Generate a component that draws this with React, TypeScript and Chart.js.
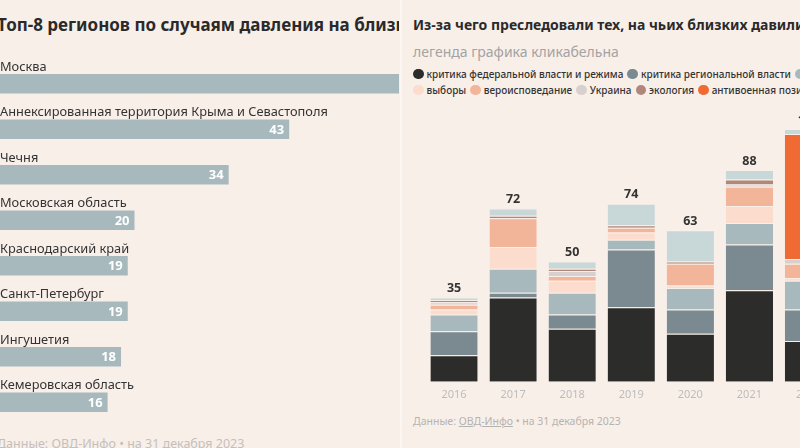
import React, { useEffect, useRef } from "react";
import { Chart, registerables } from "chart.js";

Chart.register(...registerables);

// ---------- Left chart data ----------
const regions = [
  "Москва",
  "Аннексированная территория Крыма и Севастополя",
  "Чечня",
  "Московская область",
  "Краснодарский край",
  "Санкт-Петербург",
  "Ингушетия",
  "Кемеровская область",
];
const regionCases = [66, 43, 34, 20, 19, 19, 18, 16];

// ---------- Right chart data ----------
const years = ["2016", "2017", "2018", "2019", "2020", "2021", "2022"];
const seriesNames = [
  "критика федеральной власти и режима",
  "критика региональной власти",
  "журналистика",
  "выборы",
  "вероисповедание",
  "Украина",
  "экология",
  "антивоенная позиция",
  "другое",
];
const seriesColors = [
  "#2c2c2b",
  "#7b8a90",
  "#a7b9bd",
  "#fbdccd",
  "#f3b599",
  "#d8d0ce",
  "#b0877a",
  "#f06a33",
  "#c8d8d9",
];
const fedCritique = [11, 35, 22, 31, 20, 38, 17];
const regionalCritique = [10, 2, 6, 24, 10, 19, 13];
const journalism = [7, 10, 9, 4, 9, 9, 12];
const elections = [2, 9, 5, 3, 1, 7, 1];
const religion = [2, 12, 2, 2, 9, 8, 6];
const ukraine = [1, 0, 2, 0, 0, 1, 2];
const ecology = [1, 1, 1, 1, 1, 2, 0];
const antiwar = [0, 0, 0, 0, 0, 0, 52];
const other = [1, 3, 3, 9, 13, 4, 2];
const seriesValues = [
  fedCritique,
  regionalCritique,
  journalism,
  elections,
  religion,
  ukraine,
  ecology,
  antiwar,
  other,
];
const legendRows = [
  [0, 1, 2],
  [3, 4, 5, 6, 7, 8],
];

const BG = "#f9efe9";
const FONT = "'Noto Sans', 'DejaVu Sans', sans-serif";

function LeftChart() {
  const ref = useRef<HTMLCanvasElement | null>(null);
  useEffect(() => {
    if (!ref.current) return;
    const labelsPlugin = {
      id: "regionLabels",
      afterDatasetsDraw(chart: any) {
        const ctx = chart.ctx;
        const meta = chart.getDatasetMeta(0);
        ctx.save();
        meta.data.forEach((bar: any, i: number) => {
          const h = bar.height;
          ctx.font = `12.8px ${FONT}`;
          ctx.fillStyle = "#333";
          ctx.textAlign = "left";
          ctx.textBaseline = "middle";
          ctx.fillText(regions[i], chart.chartArea.left, bar.y - h / 2 - 7);
          ctx.font = `bold 13px ${FONT}`;
          ctx.fillStyle = "#ffffff";
          ctx.textAlign = "right";
          ctx.fillText(String(regionCases[i]), bar.x - 5, bar.y + 1);
        });
        ctx.restore();
      },
    };
    const chart = new Chart(ref.current, {
      type: "bar",
      data: {
        labels: regions,
        datasets: [
          {
            data: regionCases,
            backgroundColor: "#a7b9bd",
            barPercentage: 0.43,
            categoryPercentage: 1,
          },
        ],
      },
      options: {
        indexAxis: "y",
        responsive: false,
        animation: false,
        layout: { padding: 0 },
        plugins: { legend: { display: false }, tooltip: { enabled: false } },
        scales: {
          x: { display: false, min: 0, max: 80 },
          y: { display: false },
        },
      },
      plugins: [labelsPlugin],
    });
    return () => chart.destroy();
  }, []);
  return (
    <canvas
      ref={ref}
      width={538}
      height={364}
      style={{ position: "absolute", left: 0, top: 61, width: 538, height: 364 }}
    />
  );
}

function RightChart() {
  const ref = useRef<HTMLCanvasElement | null>(null);
  useEffect(() => {
    if (!ref.current) return;
    const totalsPlugin = {
      id: "totals",
      afterDatasetsDraw(chart: any) {
        const ctx = chart.ctx;
        const x = chart.scales.x;
        const y = chart.scales.y;
        ctx.save();
        ctx.font = `bold 12.5px ${FONT}`;
        ctx.fillStyle = "#333";
        ctx.textAlign = "center";
        ctx.textBaseline = "middle";
        years.forEach((_, i) => {
          const total = seriesValues.reduce((s, arr) => s + arr[i], 0);
          ctx.fillText(String(total), x.getPixelForValue(i), y.getPixelForValue(total) - 9);
        });
        ctx.restore();
      },
    };
    const chart = new Chart(ref.current, {
      type: "bar",
      data: {
        labels: years,
        datasets: seriesValues.map((vals, k) => ({
          label: seriesNames[k],
          data: vals,
          backgroundColor: seriesColors[k],
          borderColor: "rgba(249,239,233,0.85)",
          borderWidth: { top: 1, bottom: 0, left: 0, right: 0 },
          borderSkipped: false,
          barPercentage: 0.8,
          categoryPercentage: 1,
        })),
      },
      options: {
        responsive: false,
        animation: false,
        layout: { padding: { left: 21.5, right: 0, top: 5, bottom: 0 } },
        plugins: { legend: { display: false }, tooltip: { enabled: false } },
        scales: {
          x: {
            stacked: true,
            grid: { display: false, drawTicks: false },
            border: { display: false },
            ticks: {
              color: "#bcbcbc",
              font: { family: FONT, size: 11 },
              padding: 6,
              maxRotation: 0,
            },
          },
          y: { stacked: true, display: false, min: 0, max: 115 },
        },
      },
      plugins: [totalsPlugin],
    });
    return () => chart.destroy();
  }, []);
  return (
    <canvas
      ref={ref}
      width={435}
      height={307}
      style={{ position: "absolute", left: 403, top: 100, width: 435, height: 307 }}
    />
  );
}

export default function App() {
  return (
    <div
      style={{
        position: "fixed",
        left: 0,
        top: 0,
        width: 800,
        height: 448,
        overflow: "hidden",
        background: BG,
        fontFamily: FONT,
        color: "#2a2a2a",
      }}
    >
      {/* Left panel */}
      <div style={{ position: "absolute", left: 0, top: 0, width: 399, height: 448, overflow: "hidden" }}>
        <div
          style={{
            position: "absolute",
            left: -3,
            top: 13,
            fontSize: 17,
            fontWeight: 700,
            whiteSpace: "nowrap",
            lineHeight: "24px",
          }}
        >
          Топ-8 регионов по случаям давления на близких
        </div>
        <LeftChart />
        <div
          style={{
            position: "absolute",
            left: -3,
            top: 435,
            fontSize: 12.5,
            color: "#c4bfbb",
            whiteSpace: "nowrap",
            lineHeight: "18px",
          }}
        >
          Данные: ОВД-Инфо • на 31 декабря 2023
        </div>
      </div>
      {/* Divider */}
      <div style={{ position: "absolute", left: 400, top: 0, width: 2, height: 448, background: "#fcf6f2" }} />
      {/* Right panel */}
      <div
        style={{
          position: "absolute",
          left: 413,
          top: 15,
          fontSize: 14,
          fontWeight: 700,
          whiteSpace: "nowrap",
          lineHeight: "20px",
        }}
      >
        Из-за чего преследовали тех, на чьих близких давили
      </div>
      <div
        style={{
          position: "absolute",
          left: 413,
          top: 42,
          fontSize: 14,
          color: "#a3a3a3",
          whiteSpace: "nowrap",
          lineHeight: "20px",
        }}
      >
        легенда графика кликабельна
      </div>
      {legendRows.map((row, r) => (
        <div
          key={r}
          style={{
            position: "absolute",
            left: 413,
            top: 66 + r * 16,
            height: 16,
            display: "flex",
            alignItems: "center",
            whiteSpace: "nowrap",
            fontSize: 10,
            fontWeight: 500,
            color: "#333",
          }}
        >
          {row.map((k) => (
            <div key={k} style={{ display: "flex", alignItems: "center", marginRight: 4 }}>
              <span
                style={{
                  display: "inline-block",
                  width: 10.5,
                  height: 10.5,
                  borderRadius: "50%",
                  background: seriesColors[k],
                  marginRight: 3,
                }}
              />
              <span>{seriesNames[k]}</span>
            </div>
          ))}
        </div>
      ))}
      <RightChart />
      <div
        style={{
          position: "absolute",
          left: 413,
          top: 414,
          fontSize: 10.5,
          color: "#b5b3b1",
          whiteSpace: "nowrap",
          lineHeight: "14px",
        }}
      >
        Данные: <span style={{ textDecoration: "underline" }}>ОВД-Инфо</span> • на 31 декабря 2023
      </div>
    </div>
  );
}
